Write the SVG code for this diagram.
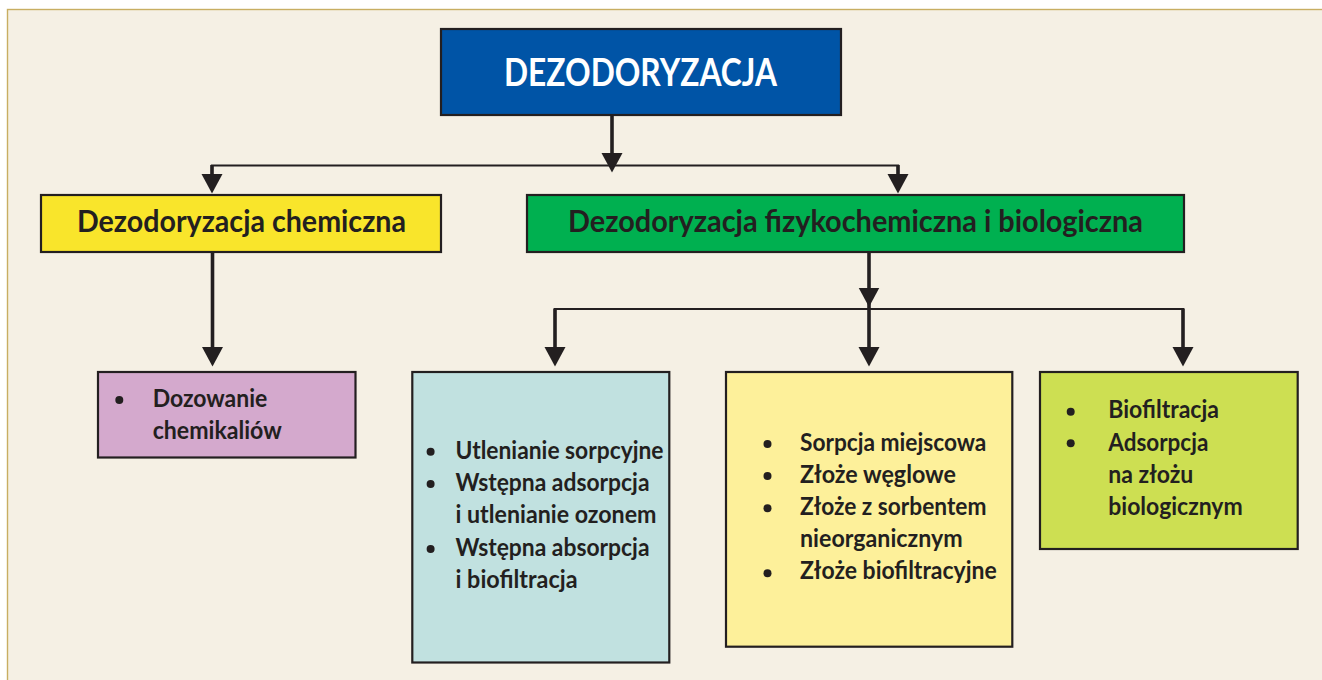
<svg xmlns="http://www.w3.org/2000/svg" width="1322" height="680" viewBox="0 0 1322 680">
<style>
  .box { stroke: #231f20; stroke-width: 2.2; }
  .t { font-family: Lato, "Liberation Sans", sans-serif; font-weight: 700; fill: #231f20; }
  .title { font-size: 38px; fill: #ffffff; }
  .h2 { font-size: 30px; }
  .body { font-size: 24px; }
  .bul { fill: #231f20; }
  .v { stroke: #231f20; stroke-width: 3.6; fill: none; }
  .h { stroke: #231f20; stroke-width: 2.2; fill: none; }
</style>
<defs>
  <marker id="ah" markerUnits="userSpaceOnUse" markerWidth="20" markerHeight="22" viewBox="0 -11 20 22" refX="9" refY="0" orient="auto">
    <path d="M0,-10.5 L19.5,0 L0,10.5 z" fill="#231f20"/>
  </marker>
</defs>
<rect x="0" y="0" width="1322" height="680" fill="#ffffff"/>
<rect x="7.5" y="9.5" width="1340" height="700" fill="#f5f0e4" stroke="#c8ae62" stroke-width="1.4"/>

<g id="connectors">
  <line class="v" x1="612" y1="115" x2="612" y2="162" marker-end="url(#ah)"/>
  <polyline class="h" points="212,175 212,165.5 898,165.5 898,175"/>
  <line class="v" x1="212" y1="165" x2="212" y2="183" marker-end="url(#ah)"/>
  <line class="v" x1="898" y1="165" x2="898" y2="183" marker-end="url(#ah)"/>
  <line class="v" x1="212.5" y1="252" x2="212.5" y2="356" marker-end="url(#ah)"/>
  <line class="v" x1="869" y1="252" x2="869" y2="296.5" marker-end="url(#ah)"/>
  <polyline class="h" points="555,320 555,309 1183,309 1183,320"/>
  <line class="v" x1="555" y1="308.5" x2="555" y2="356" marker-end="url(#ah)"/>
  <line class="v" x1="869" y1="300" x2="869" y2="356" marker-end="url(#ah)"/>
  <line class="v" x1="1183" y1="308.5" x2="1183" y2="356" marker-end="url(#ah)"/>
</g>

<g id="node-dezodoryzacja">
  <rect class="box" x="441" y="29" width="400" height="86" fill="#0054a6"/>
  <text class="t title" x="504" y="86" textLength="273" lengthAdjust="spacingAndGlyphs">DEZODORYZACJA</text>
</g>

<g id="node-chemiczna">
  <rect class="box" x="41" y="195" width="400" height="57" fill="#f9e52b"/>
  <text class="t h2" x="77" y="231.5" textLength="329" lengthAdjust="spacingAndGlyphs">Dezodoryzacja chemiczna</text>
</g>

<g id="node-fizykochemiczna">
  <rect class="box" x="527" y="195" width="657" height="57" fill="#00b050"/>
  <text class="t h2" x="568" y="231.5" textLength="575" lengthAdjust="spacingAndGlyphs">Dezodoryzacja fizykochemiczna i biologiczna</text>
</g>

<g id="node-dozowanie">
  <rect class="box" x="98" y="372" width="257.5" height="85.5" fill="#d4a9cd"/>
  <circle class="bul" cx="119.3" cy="400" r="4"/>
  <text class="t body" x="152.7" y="406.7" textLength="114.6" lengthAdjust="spacingAndGlyphs">Dozowanie</text>
  <text class="t body" x="152.7" y="439.3" textLength="129" lengthAdjust="spacingAndGlyphs">chemikaliów</text>
</g>

<g id="node-utlenianie">
  <rect class="box" x="412.3" y="372" width="257" height="290.5" fill="#c1e1e0"/>
  <circle class="bul" cx="430.6" cy="451.7" r="4"/>
  <circle class="bul" cx="430.6" cy="484" r="4"/>
  <circle class="bul" cx="430.6" cy="549" r="4"/>
  <text class="t body" x="455.5" y="459.3" textLength="208" lengthAdjust="spacingAndGlyphs">Utlenianie sorpcyjne</text>
  <text class="t body" x="455.5" y="491" textLength="194" lengthAdjust="spacingAndGlyphs">Wstępna adsorpcja</text>
  <text class="t body" x="455.5" y="523.3" textLength="201" lengthAdjust="spacingAndGlyphs">i utlenianie ozonem</text>
  <text class="t body" x="455.5" y="555.7" textLength="194" lengthAdjust="spacingAndGlyphs">Wstępna absorpcja</text>
  <text class="t body" x="455.5" y="587.7" textLength="122" lengthAdjust="spacingAndGlyphs">i biofiltracja</text>
</g>

<g id="node-sorpcja">
  <rect class="box" x="726" y="372" width="286.3" height="274.7" fill="#fdf09a"/>
  <circle class="bul" cx="767.5" cy="444" r="4"/>
  <circle class="bul" cx="767.5" cy="476" r="4"/>
  <circle class="bul" cx="767.5" cy="508.3" r="4"/>
  <circle class="bul" cx="767.5" cy="573.3" r="4"/>
  <text class="t body" x="800" y="450.7" textLength="186.4" lengthAdjust="spacingAndGlyphs">Sorpcja miejscowa</text>
  <text class="t body" x="800" y="482.7" textLength="156" lengthAdjust="spacingAndGlyphs">Złoże węglowe</text>
  <text class="t body" x="800" y="515" textLength="186.4" lengthAdjust="spacingAndGlyphs">Złoże z sorbentem</text>
  <text class="t body" x="800" y="547.3" textLength="162.6" lengthAdjust="spacingAndGlyphs">nieorganicznym</text>
  <text class="t body" x="800" y="579.3" textLength="196.7" lengthAdjust="spacingAndGlyphs">Złoże biofiltracyjne</text>
</g>

<g id="node-biofiltracja">
  <rect class="box" x="1040" y="372" width="257.7" height="177" fill="#cddf52"/>
  <circle class="bul" cx="1070.7" cy="411.7" r="4"/>
  <circle class="bul" cx="1070.7" cy="443.3" r="4"/>
  <text class="t body" x="1108.3" y="418.3" textLength="110.7" lengthAdjust="spacingAndGlyphs">Biofiltracja</text>
  <text class="t body" x="1108.3" y="450.7" textLength="100" lengthAdjust="spacingAndGlyphs">Adsorpcja</text>
  <text class="t body" x="1108.3" y="482.7" textLength="85" lengthAdjust="spacingAndGlyphs">na złożu</text>
  <text class="t body" x="1108.3" y="515" textLength="134.4" lengthAdjust="spacingAndGlyphs">biologicznym</text>
</g>
</svg>
